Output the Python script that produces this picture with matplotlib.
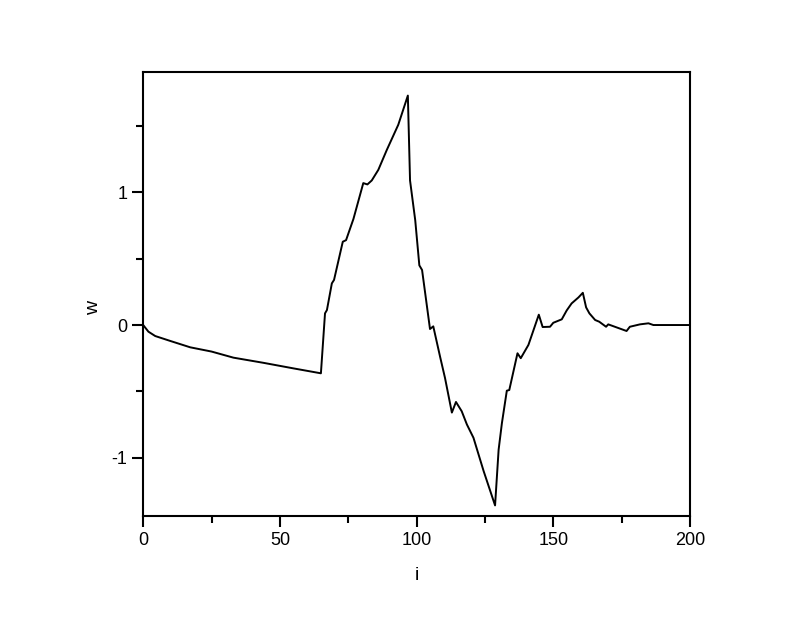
import matplotlib
matplotlib.use("Agg")
import matplotlib.pyplot as plt
from matplotlib.ticker import MultipleLocator

i_vals = [0, 1.9, 4.4, 9.9, 17.2, 25, 33, 44, 55, 65,
          66.5, 67.2, 69, 69.8, 73, 74.2, 76.9, 78.1, 80.5, 82, 83.6, 86, 89.1, 93.3, 96.8,
          97.6, 99.5, 101, 102, 104.9, 106.1, 108.6, 110.4, 112.9, 114.4, 116.5, 118.4, 120.8, 124.5, 128.7,
          130, 131.2, 133, 133.9, 136.9, 138.1, 140.9, 144.7, 146.1, 148.8, 150, 153.1, 154.9, 156.7, 159.2, 160.8,
          162, 163.2, 165.3, 166.8, 169.3, 170.1, 176.8, 178, 181.7, 184.8, 186.6, 200]
w_vals = [0, -0.05, -0.083, -0.12, -0.168, -0.2, -0.246, -0.285, -0.327, -0.364,
          0.088, 0.113, 0.314, 0.34, 0.628, 0.64, 0.80, 0.89, 1.07, 1.06, 1.09, 1.17, 1.32, 1.51, 1.73,
          1.09, 0.79, 0.45, 0.415, -0.03, -0.01, -0.24, -0.40, -0.66, -0.58, -0.65, -0.75, -0.85, -1.1, -1.36,
          -0.94, -0.74, -0.495, -0.49, -0.213, -0.25, -0.15, 0.078, -0.015, -0.013, 0.017, 0.043, 0.11, 0.163, 0.208, 0.243,
          0.133, 0.088, 0.038, 0.025, -0.013, 0.005, -0.045, -0.013, 0.005, 0.013, 0.0, 0.0]

plt.rcParams['font.family'] = ['Liberation Sans', 'DejaVu Sans']
plt.rcParams['axes.unicode_minus'] = False
fig = plt.figure(figsize=(8, 6.18), dpi=100)
ax = fig.add_axes([0.179, 0.165, 0.6835, 0.719])
ax.plot(i_vals, w_vals, color='black', lw=1.4)
ax.set_xlim(0, 200)
ax.set_ylim(-1.44, 1.91)
ax.xaxis.set_major_locator(MultipleLocator(50))
ax.xaxis.set_minor_locator(MultipleLocator(25))
ax.yaxis.set_major_locator(MultipleLocator(1))
ax.yaxis.set_minor_locator(MultipleLocator(0.5))
ax.tick_params(which='both', direction='out', top=False, right=False, labelsize=13, width=1.5)
ax.tick_params(which='major', length=8)
ax.tick_params(which='minor', length=5)
for s in ax.spines.values():
    s.set_linewidth(1.5)
ax.set_xlabel('i', fontsize=14)
ax.set_ylabel('w', fontsize=14)
ax.xaxis.set_label_coords(0.5, -0.115)
ax.yaxis.set_label_coords(-0.075, 0.468)
fig.savefig('out.png', dpi=100)
